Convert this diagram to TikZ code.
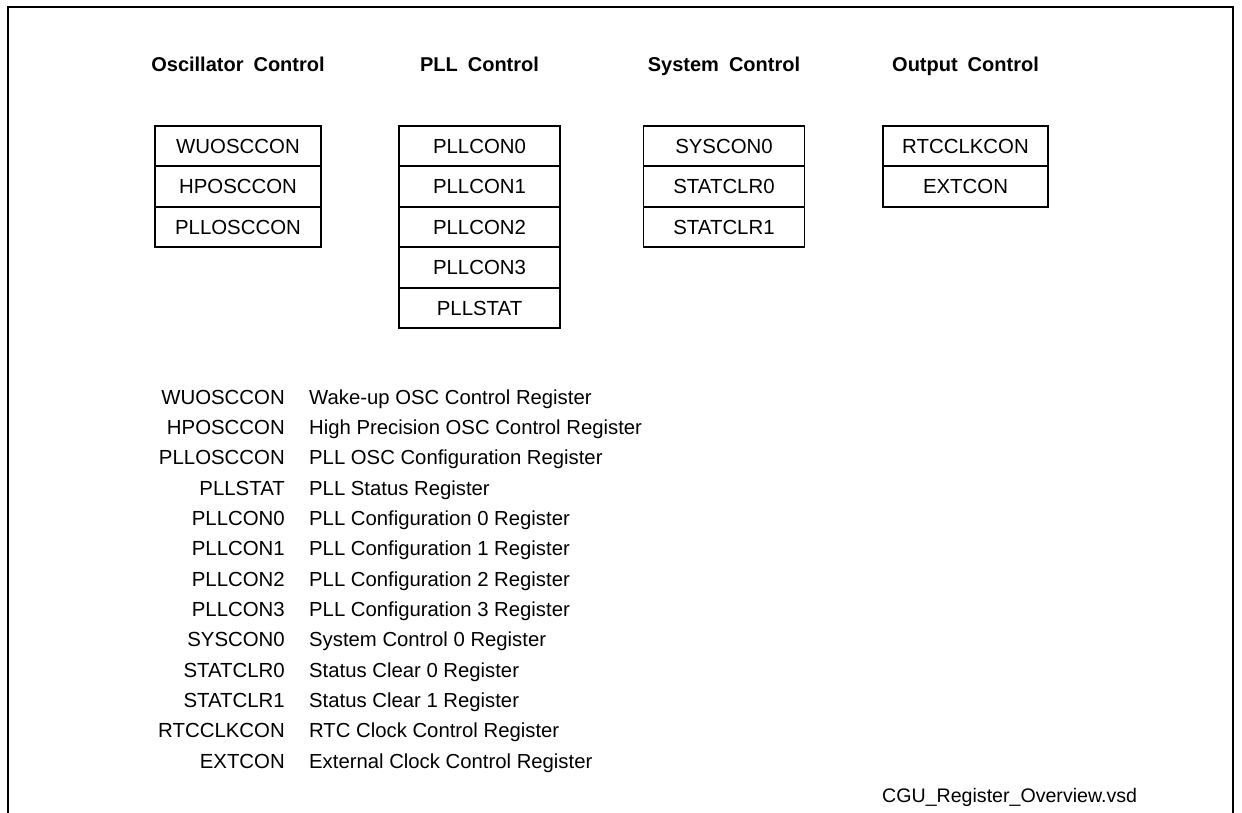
\documentclass[tikz,border=0pt]{standalone}
\usepackage{fontspec}
\setmainfont{Liberation Sans}
\newcommand\ttltext[1]{{\spaceskip=10pt\relax #1}}
\begin{document}
\begin{tikzpicture}[x=1pt,y=-1pt,
  frame/.style={line width=2pt},
  title/.style={font=\fontsize{20}{24}\selectfont\bfseries, inner sep=0pt, text height=14.5pt, text depth=0pt},
  reg/.style={draw, line width=1.8pt, minimum height=40.5pt, inner sep=0pt,
              font=\fontsize{20.4}{24}\selectfont, text height=14.5pt, text depth=0pt},
  lname/.style={anchor=east, inner sep=0pt, font=\fontsize{20.4}{24}\selectfont, text height=14.5pt, text depth=0pt},
  ldesc/.style={anchor=west, inner sep=0pt, font=\fontsize{20.3}{24}\selectfont, text height=14.5pt, text depth=0pt}]
\useasboundingbox (0,0) rectangle (1242,813);
\coordinate (f1) at (8,813);
\coordinate (f2) at (8,7);
\coordinate (f3) at (1233,7);
\coordinate (f4) at (1233,813);
\draw[frame] (f1) -- (f2) -- (f3) -- (f4);

\node[title] (tosc) at (238,64) {\ttltext{Oscillator Control}};
\node[title] (tpll) at (479.5,64) {\ttltext{PLL Control}};
\node[title] (tsys) at (724,64) {\ttltext{System Control}};
\node[title] (tout) at (965.5,64) {\ttltext{Output Control}};

% Oscillator
\begin{scope}[every node/.style={reg, minimum width=166pt}]
\node (o1) at (238,146) {WUOSCCON};
\node (o2) at (238,186.5) {HPOSCCON};
\node (o3) at (238,227) {PLLOSCCON};
\end{scope}
% PLL
\begin{scope}[every node/.style={reg, minimum width=161pt}]
\node (p1) at (479.5,146) {PLLCON0};
\node (p2) at (479.5,186.5) {PLLCON1};
\node (p3) at (479.5,227) {PLLCON2};
\node (p4) at (479.5,267.5) {PLLCON3};
\node (p5) at (479.5,308) {PLLSTAT};
\end{scope}
% System
\begin{scope}[every node/.style={reg, minimum width=161pt}]
\node (s1) at (724,146) {SYSCON0};
\node (s2) at (724,186.5) {STATCLR0};
\node (s3) at (724,227) {STATCLR1};
\end{scope}
% Output
\begin{scope}[every node/.style={reg, minimum width=165pt}]
\node (r1) at (965.5,146) {RTCCLKCON};
\node (r2) at (965.5,186.5) {EXTCON};
\end{scope}

% Legend
\foreach \n/\d [count=\i from 0] in {
  WUOSCCON/Wake-up OSC Control Register,
  HPOSCCON/High Precision OSC Control Register,
  PLLOSCCON/PLL OSC Configuration Register,
  PLLSTAT/PLL Status Register,
  PLLCON0/PLL Configuration 0 Register,
  PLLCON1/PLL Configuration 1 Register,
  PLLCON2/PLL Configuration 2 Register,
  PLLCON3/PLL Configuration 3 Register,
  SYSCON0/System Control 0 Register,
  STATCLR0/Status Clear 0 Register,
  STATCLR1/Status Clear 1 Register,
  RTCCLKCON/RTC Clock Control Register,
  EXTCON/External Clock Control Register}{
  \node[lname] (ln\i) at (285,397+30.33*\i) {\n};
  \node[ldesc] (ld\i) at (309,397+30.33*\i) {\d};
}

\node[anchor=west, inner sep=0pt, font=\fontsize{19.6}{24}\selectfont, text height=14.5pt, text depth=0pt] (file) at (882,795) {CGU\_Register\_Overview.vsd};
\end{tikzpicture}
\end{document}
